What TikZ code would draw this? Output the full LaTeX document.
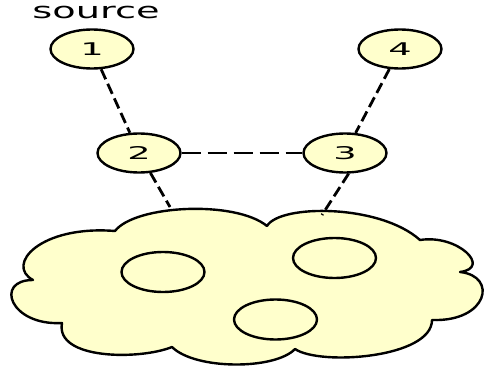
\documentclass[tikz,border=0pt]{standalone}
\usepackage{fontspec}
\setmainfont{DejaVu Sans}
\usetikzlibrary{shapes.geometric}
\definecolor{cloudfill}{HTML}{FFFFCC}
\newcommand{\widetext}[2]{\scalebox{#1}[1]{#2}}
\tikzset{
  vertex/.style={ellipse, draw=black, line width=2.4pt, fill=cloudfill,
    minimum width=83pt, minimum height=39pt, inner sep=0pt,
    font=\fontsize{17.5}{19}\selectfont},
  hole/.style={ellipse, draw=black, line width=2.4pt,
    minimum width=83pt, minimum height=40pt, inner sep=0pt},
  cloudline/.style={draw=black, line width=2.4pt, fill=cloudfill, line join=round},
  link/.style={draw=black, line width=2.8pt, dash pattern=on 11pt off 5pt},
  hlink/.style={draw=black, line width=2.3pt, dash pattern=on 19pt off 7pt},
  caption/.style={anchor=base, inner sep=0pt, font=\fontsize{22}{24}\selectfont},
}
\begin{document}
\begin{tikzpicture}[x=1pt,y=-1pt]
\useasboundingbox (0,0) rectangle (485,369);

% the cloud, bump by bump between its notches
\path[cloudline] (115,231)
  .. controls (135,205) and (235,200) .. (267,226)
  .. controls (280,204) and (380,204) .. (420,240)
  .. controls (458,234) and (492,268) .. (460,272)
  .. controls (498,276) and (488,322) .. (432,320)
  .. controls (432,358) and (320,366) .. (295,349)
  .. controls (275,370) and (195,370) .. (172,347)
  .. controls (140,360) and (55,360) .. (62,323)
  .. controls (10,326) and (-6,280) .. (33,280)
  .. controls (5,265) and (40,225) .. (115,231)
  -- cycle;

% rings inside the cloud
\node[hole] (ha) at (163,272) {};
\node[hole] (hb) at (334.5,258) {};
\node[hole] (hc) at (275.5,319.5) {};

% numbered nodes
\node[vertex] (n1) at (92,49) {\widetext{2.1}{1}};
\node[vertex] (n2) at (139,153) {\widetext{2.1}{2}};
\node[vertex] (n3) at (345,153) {\widetext{2.1}{3}};
\node[vertex] (n4) at (400,49) {\widetext{2.1}{4}};

\node[caption] (src) at (96,19) {\widetext{1.74}{source}};

% loose ends resting on the cloud
\coordinate (c1) at (170,207);
\coordinate (c2) at (322,215);

% connectors
\draw[link] (n1) -- (n2);
\draw[link] (n4) -- (n3);
\draw[hlink] (n2) -- (n3);
\draw[link] (n2) -- (c1);
\draw[link] (n3.-80) -- (c2);
\end{tikzpicture}
\end{document}
